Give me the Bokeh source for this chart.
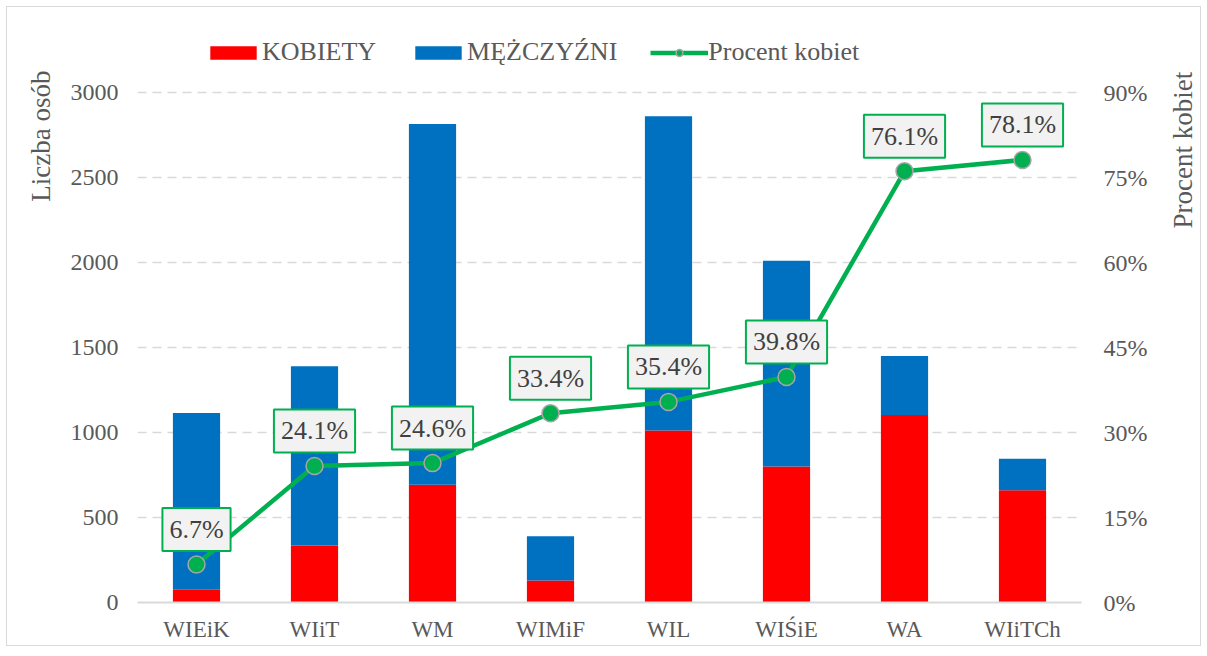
import math
from bokeh.plotting import figure
from bokeh.layouts import row
from bokeh.models import (Range1d, LinearAxis, FixedTicker, NumeralTickFormatter,
                          Legend, LegendItem, Label, ColumnDataSource)
from bokeh.embed import file_html
from bokeh.resources import INLINE

categories = ["WIEiK", "WIiT", "WM", "WIMiF", "WIL", "WIŚiE", "WA", "WIiTCh"]
kobiety = [75, 335, 692, 130, 1012, 800, 1103, 660]
mezczyzni = [1040, 1055, 2123, 260, 1848, 1210, 347, 185]
procent = [6.7, 24.1, 24.6, 33.4, 35.4, 39.8, 76.1, 78.1]
left_ticks = [0, 500, 1000, 1500, 2000, 2500, 3000]
right_ticks = [0, 0.15, 0.30, 0.45, 0.60, 0.75, 0.90]

FONT = "Liberation Serif"
TXT = "#595959"
RED = "#ff0000"
BLUE = "#0070c0"
GREEN = "#00b050"

H = 638            # height of the chart box
FRAME_H = 595      # plot frame height (includes legend strip on top)
AX_H = 510         # pixels used by the 0..3000 scale

xs = [i + 0.5 for i in range(len(categories))]
src = ColumnDataSource(dict(x=xs, kobiety=kobiety, mezczyzni=mezczyzni,
                            pct=[v / 100 for v in procent]))

p = figure(width=1096, height=H, output_backend="svg", toolbar_location=None,
           title=None,
           x_range=Range1d(0, len(categories)),
           y_range=Range1d(0, 3000 * FRAME_H / AX_H),
           min_border_left=73, min_border_right=79, min_border_top=0,
           min_border_bottom=H - FRAME_H)
p.outline_line_color = None
p.background_fill_color = "white"
p.border_fill_color = "white"
p.extra_y_ranges = {"pct": Range1d(0, 0.9 * FRAME_H / AX_H)}

bars = p.vbar_stack(["kobiety", "mezczyzni"], x="x", width=0.4, source=src,
                    color=[RED, BLUE], line_color=None)
line = p.line("x", "pct", source=src, y_range_name="pct", line_color=GREEN,
              line_width=4.5)
dots = p.scatter("x", "pct", source=src, y_range_name="pct", size=17,
                 fill_color=GREEN, line_color="#a6a6a6", line_width=1.5)

# axes
p.xaxis.ticker = FixedTicker(ticks=xs)
p.xaxis.major_label_overrides = {x: c for x, c in zip(xs, categories)}
p.xaxis.axis_line_color = "#d9d9d9"
p.xaxis.axis_line_width = 2
p.xaxis.major_tick_line_color = None
p.xaxis.minor_tick_line_color = None
p.xaxis.major_tick_out = 0
p.xaxis.major_label_standoff = 14
p.xaxis.major_label_text_font = FONT
p.xaxis.major_label_text_font_size = "23px"
p.xaxis.major_label_text_color = TXT

yax = p.yaxis[0]
yax.ticker = FixedTicker(ticks=left_ticks)
yax.axis_line_color = None
yax.major_tick_line_color = None
yax.minor_tick_line_color = None
yax.major_tick_out = 0
yax.major_label_standoff = 19
yax.major_label_text_font = FONT
yax.major_label_text_font_size = "24px"
yax.major_label_text_color = TXT

ra = LinearAxis(y_range_name="pct", ticker=FixedTicker(ticks=right_ticks),
                formatter=NumeralTickFormatter(format="0%"))
ra.axis_line_color = None
ra.major_tick_line_color = None
ra.minor_tick_line_color = None
ra.major_tick_out = 0
ra.major_label_standoff = 22
ra.major_label_text_font = FONT
ra.major_label_text_font_size = "24px"
ra.major_label_text_color = TXT
p.add_layout(ra, "right")

p.xgrid.grid_line_color = None
p.ygrid.grid_line_color = "#d9d9d9"
p.ygrid.grid_line_width = 1.5
p.ygrid.grid_line_dash = "9 6"

# data labels
for x, v in zip(xs, procent):
    p.add_layout(Label(x=x, y=v / 100, y_range_name="pct", text=f"{v:.1f}%",
                       y_offset=35, text_align="center", text_baseline="middle",
                       text_font=FONT, text_font_size="26px", text_color="#404040",
                       background_fill_color="#f2f2f2", border_line_color=GREEN,
                       border_line_width=2, padding=7))

legend = Legend(items=[LegendItem(label="KOBIETY", renderers=[bars[0]]),
                       LegendItem(label="MĘŻCZYŹNI", renderers=[bars[1]]),
                       LegendItem(label="Procent kobiet", renderers=[line, dots])],
                orientation="horizontal", location=(67, 535),
                glyph_width=58, glyph_height=17, label_standoff=0, spacing=33,
                padding=0, margin=0, border_line_color=None,
                background_fill_alpha=0, label_text_font=FONT,
                label_text_font_size="26px", label_text_color=TXT)
p.add_layout(legend, "center")


def title_fig(width, text, cx, cy):
    f = figure(width=width, height=H, output_backend="svg", toolbar_location=None,
               title=None, x_range=Range1d(0, width), y_range=Range1d(0, H),
               x_axis_type=None, y_axis_type=None,
               min_border_left=0, min_border_right=0, min_border_top=0,
               min_border_bottom=0)
    f.outline_line_color = None
    f.grid.visible = False
    f.background_fill_color = "white"
    f.border_fill_color = "white"
    f.add_layout(Label(x=cx, y=H - cy, text=text, angle=math.pi / 2,
                       text_align="center", text_baseline="middle",
                       text_font=FONT, text_font_size="27px", text_color=TXT))
    return f


left_t = title_fig(57, "Liczba osób", 33, 138)
right_t = title_fig(40, "Procent kobiet", 22, 153)

layout = row(left_t, p, right_t)
layout.margin = (7, 7, 7, 7)
layout.styles = {"outline": "1.5px solid #d9d9d9"}

open("out.html", "w").write(file_html(layout, INLINE))
